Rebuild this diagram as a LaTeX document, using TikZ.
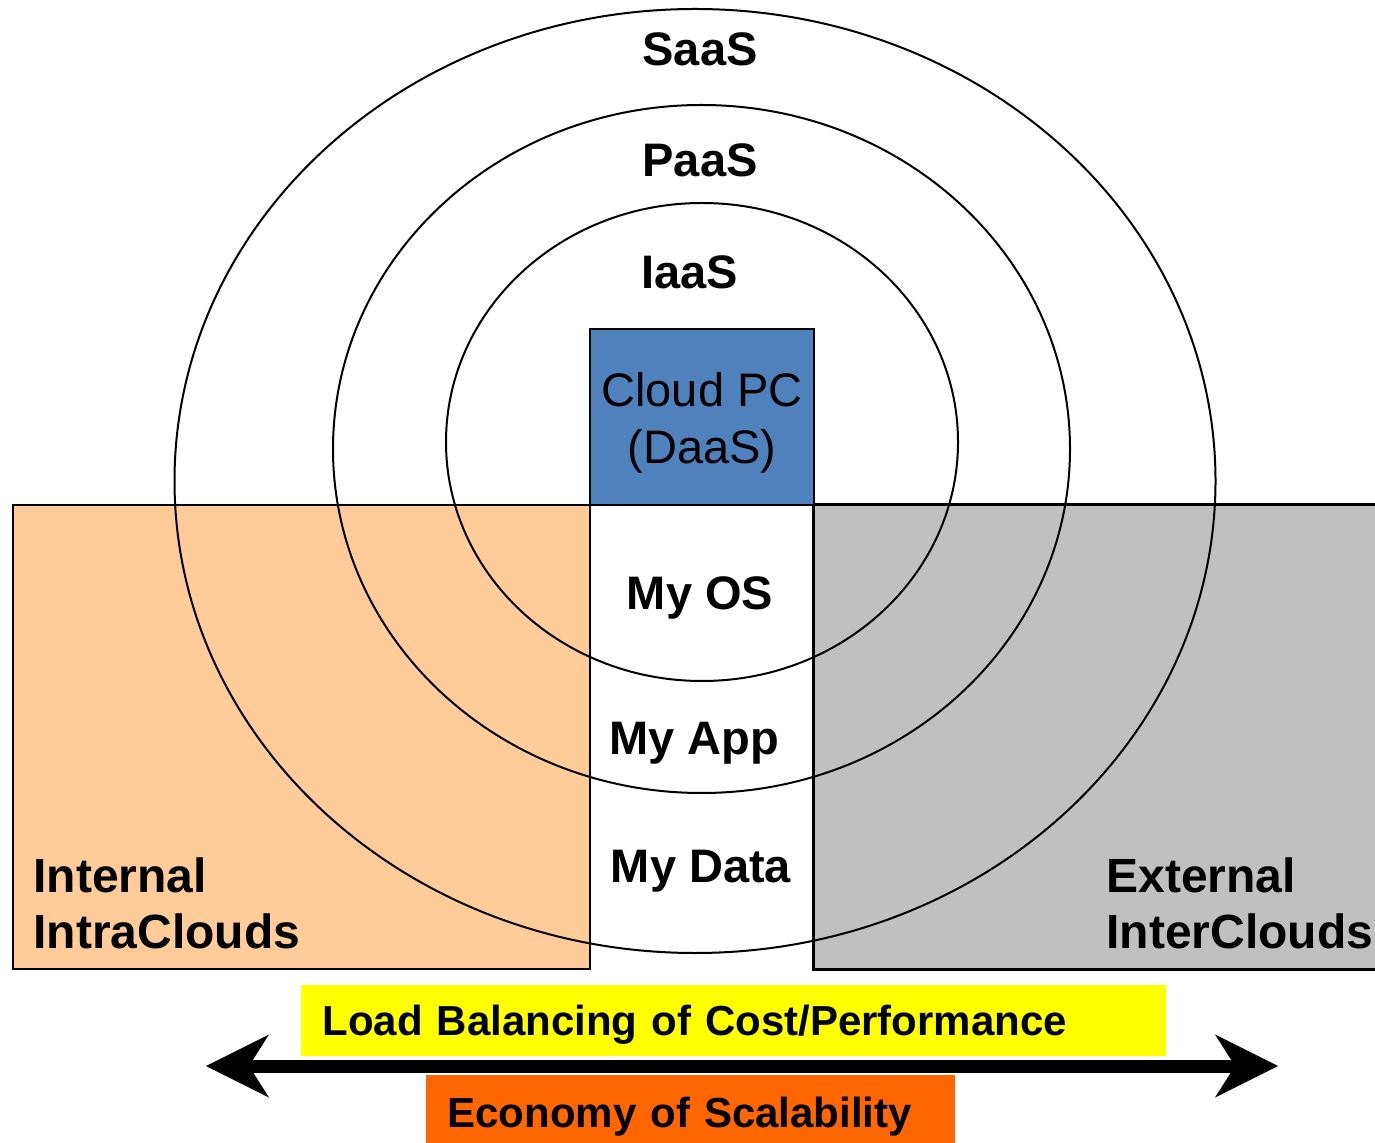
\documentclass[tikz,border=0pt]{standalone}
\usepackage{fontspec}
\setmainfont{Liberation Sans}
\usetikzlibrary{positioning}
\usetikzlibrary{arrows.meta}

\definecolor{daasblue}{HTML}{4F81BD}
\definecolor{intraorange}{HTML}{FFCC99}
\definecolor{intergray}{HTML}{C0C0C0}
\definecolor{lbyellow}{HTML}{FFFF00}
\definecolor{scaleorange}{HTML}{FF6600}

\begin{document}
\begin{tikzpicture}[x=0.5pt, y=-0.5pt,
	>={Stealth[length=31.5pt, width=31.5pt, inset=10pt, line width=0pt]},
	ring/.style={line width=1pt},
	box/.style={draw, line width=1.3pt, inner sep=0pt},
	layer/.style={font=\fontsize{23.5}{28}\selectfont\bfseries, anchor=base, inner sep=0pt},
	side/.style={font=\fontsize{24}{28}\selectfont\bfseries, align=left, anchor=north west, inner sep=0pt},
	banner/.style={font=\fontsize{21}{25}\selectfont\bfseries, anchor=west, inner xsep=10.5pt, inner ysep=0pt, text depth=0pt, align=left}]
	\useasboundingbox (0,0) rectangle (1375,1143);
	\node[box, fill=intraorange, minimum width=288.5pt, minimum height=232pt] (intra) at (301.5,737) {};
	\node[fill=intergray, minimum width=280.5pt, minimum height=232pt, inner sep=0pt] (inter) at (1094.5,737) {};
	\draw[line width=1.3pt] (inter.north east) -- (inter.north west) -- (inter.south west) -- (inter.south east);
	\node[box, fill=daasblue, minimum width=112pt, minimum height=88pt] (daas) at (702,417) {};
	\node[align=center, inner sep=0pt, font=\fontsize{23.5}{28.5}\selectfont] (daaslabel)
		at ([yshift=-3pt]daas.center) {Cloud PC\\(DaaS)};
	% rings
	\draw[ring] (695,481) ellipse [x radius=520.5, y radius=472];
	\draw[ring] (701.5,449) ellipse [x radius=368.5, y radius=344];
	\draw[ring] (702,442) ellipse [x radius=256, y radius=239];
	\node[layer] (saas) at (700,66) {SaaS};
	\node[layer] (paas) at (700,177) {PaaS};
	\node[layer] (iaas) at (690,289) {IaaS};
	\node[layer] (myos) at (700,610) {My OS};
	\node[layer] (myapp) at (694,754) {My App};
	\node[layer] (mydata) at (701,882) {My Data};
	\node[side] (internal) at (33,857) {Internal\\IntraClouds};
	\node[side] (external) at (1106,857) {External\\InterClouds};
	% bottom
	\node[banner, fill=lbyellow, text width=411.5pt, text height=14.5pt, minimum height=35.5pt] (balance) at (301,1020.5) {Load Balancing of Cost/Performance};
	\node[banner, fill=scaleorange, text width=243.5pt, text height=18pt, minimum height=34pt] (scale) at (426,1109) {Economy of Scalability};
	\coordinate (leftend) at (206,1066);
	\coordinate (rightend) at (1278,1066);
	\draw[line width=6.5pt, <->] (leftend) -- (rightend);
\end{tikzpicture}
\end{document}
